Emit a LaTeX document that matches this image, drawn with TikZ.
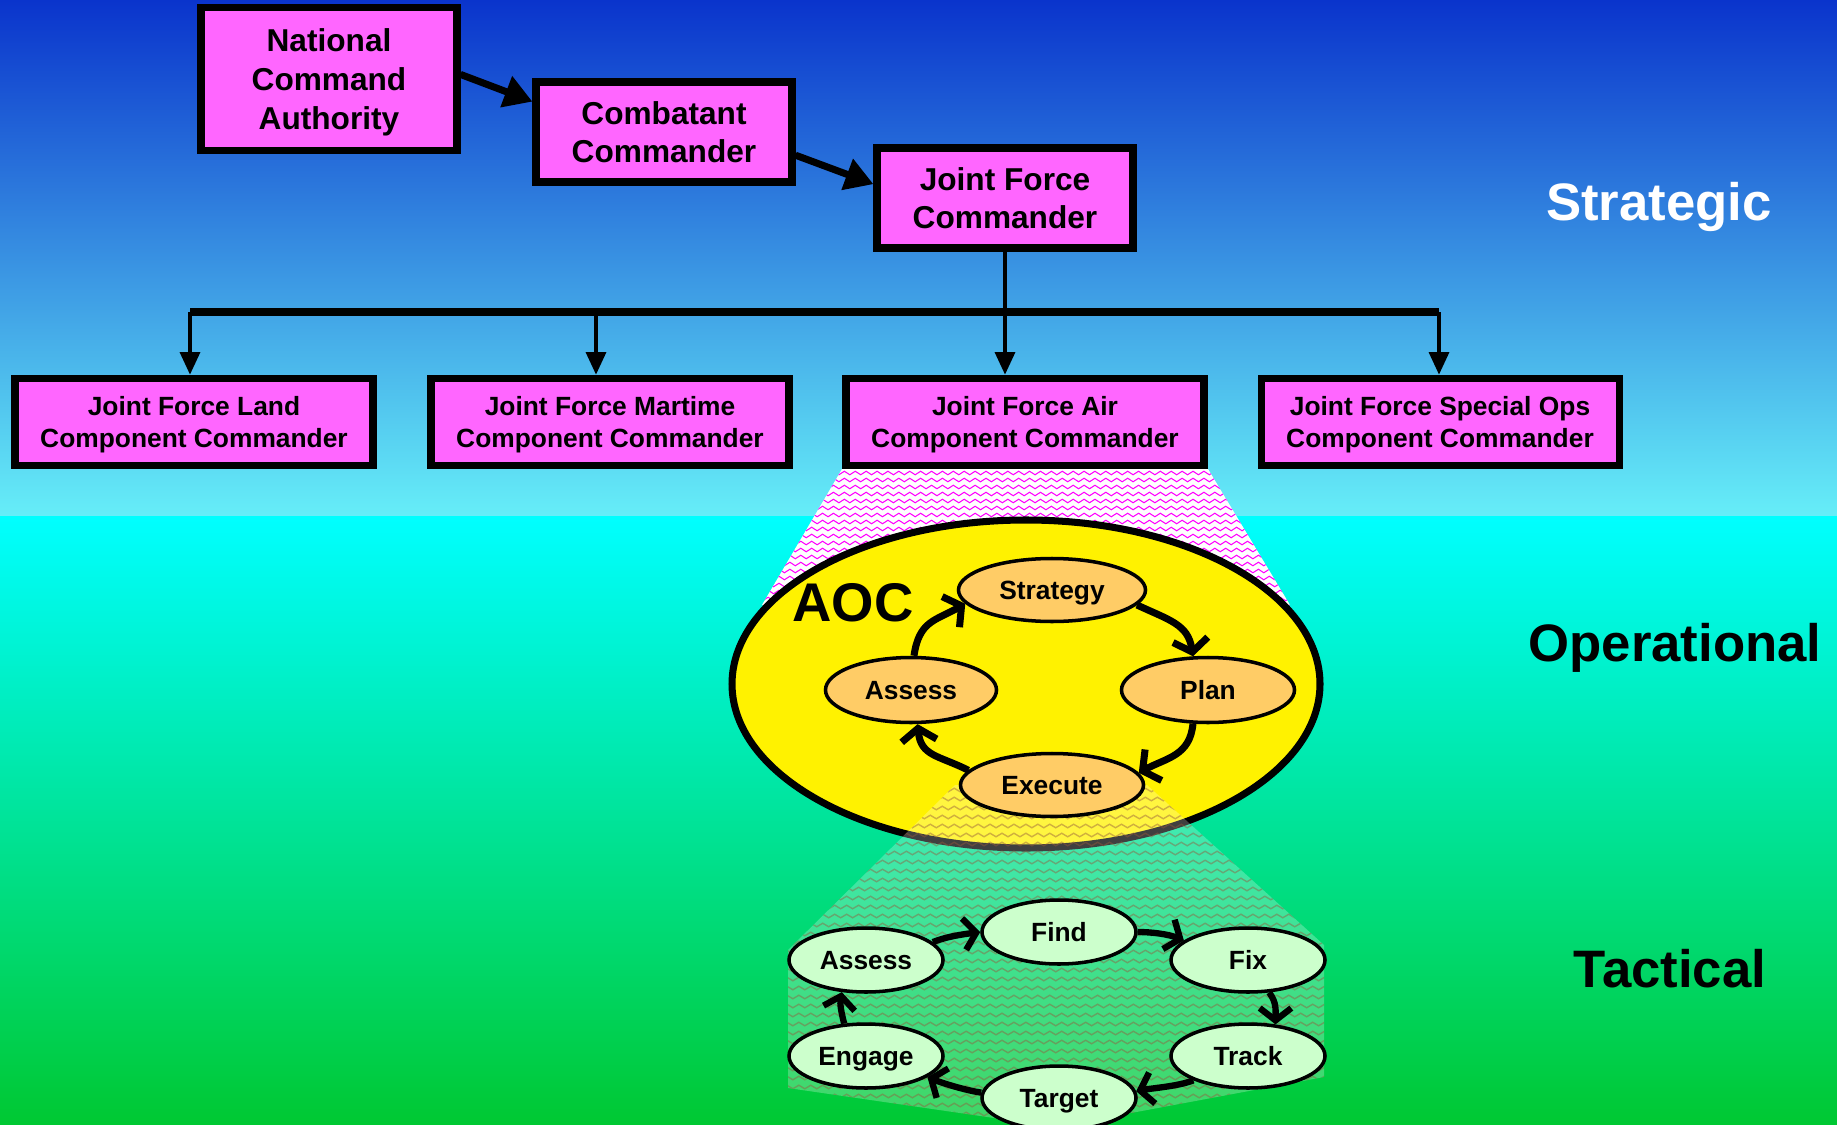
\documentclass[tikz,border=0pt]{standalone}
\usepackage{fontspec}
\setmainfont{Liberation Sans}
\usetikzlibrary{arrows.meta,shapes.geometric,decorations.pathmorphing}

\definecolor{bgtop}{RGB}{10,52,204}
\definecolor{bgmid}{RGB}{102,238,248}
\definecolor{bgcyan}{RGB}{0,255,255}
\definecolor{bgbot}{RGB}{0,200,50}
\definecolor{boxmag}{RGB}{255,102,255}
\definecolor{orangefill}{RGB}{255,204,102}
\definecolor{greenfill}{RGB}{204,255,204}
\definecolor{zigmag}{RGB}{255,0,255}
\definecolor{zigbrown}{RGB}{150,90,60}

\tikzset{
 cmdbox/.style={rectangle, draw=black, line width=2pt, fill=boxmag, align=center, inner sep=0pt,
   font=\fontsize{9}{11}\selectfont\bfseries, minimum width=25.6mm, text depth=0pt},
 compbox/.style={rectangle, draw=black, line width=2pt, fill=boxmag, align=center, inner sep=0pt,
   font=\fontsize{7.5}{9.3}\selectfont\bfseries, minimum width=35.8mm, minimum height=8.7mm, text depth=0pt},
 opell/.style={ellipse, draw=black, line width=1pt, fill=orangefill, inner sep=0pt,
   font=\fontsize{7.5}{9}\selectfont\bfseries, text depth=0pt},
 tacell/.style={ellipse, draw=black, line width=1pt, fill=greenfill, inner sep=0pt,
   font=\fontsize{7.5}{9}\selectfont\bfseries, minimum width=15.4mm, minimum height=6.4mm, text depth=0pt},
 bigarrow/.style={line width=2pt, -{Triangle[length=8pt,width=9pt]}},
 downarrow/.style={line width=1.4pt, -{Triangle[length=6.5pt,width=5.5pt]}},
 cyclearrow/.style={line width=2pt, -{Straight Barb[length=3.5pt,width=10pt]}},
 tacarrow/.style={line width=1.8pt, -{Straight Barb[length=3.5pt,width=9pt]}},
 levellabel/.style={font=\fontsize{15}{18}\selectfont\bfseries, text depth=0pt},
 magzig/.style={draw=zigmag, line width=0.3pt, decorate, decoration={zigzag, segment length=3.1pt, amplitude=0.5pt}},
 brownzig/.style={draw=zigbrown, draw opacity=0.45, line width=0.4pt, decorate, decoration={zigzag, segment length=3.4pt, amplitude=0.5pt}},
}

\begin{document}
\begin{tikzpicture}[x=0.1mm,y=-0.1mm]
\useasboundingbox (0,0) rectangle (1837,1125);
% background
\shade[top color=bgtop, bottom color=bgmid] (0,0) rectangle (1837,516);
\shade[top color=bgcyan, bottom color=bgbot] (0,516) rectangle (1837,1125);

% command boxes
\node[cmdbox, minimum height=14.3mm] (nca) at (329,79) {National\\Command\\Authority};
\node[cmdbox, minimum height=10mm] (cc) at (664,132) {Combatant\\Commander};
\node[cmdbox, minimum height=10mm] (jfc) at (1005,198) {Joint Force\\Commander};

\node[compbox] (land) at (194,422) {Joint Force Land\\Component Commander};
\node[compbox] (mar) at (610,422) {Joint Force Martime\\Component Commander};
\node[compbox] (air) at (1025,422) {Joint Force Air\\Component Commander};
\node[compbox] (spec) at (1440,422) {Joint Force Special Ops\\Component Commander};

\draw[bigarrow] (nca.2) -- (cc.167);
\draw[bigarrow] (cc.-10) -- (jfc.174);

\coordinate (b1) at (190,312);
\coordinate (b2) at (596,312);
\coordinate (b4) at (1439,312);
\draw[line width=2.3pt] (b1) -- (b4);
\draw[downarrow] (b1) -- (b1 |- land.north);
\draw[downarrow] (b2) -- (b2 |- mar.north);
\draw[downarrow] (b4) -- (b4 |- spec.north);
\draw[downarrow] (jfc.south) -- (jfc.south |- air.north);

% magenta zigzag funnel
\begin{scope}
\clip (842,469) -- (1208,469) -- (1290,605) -- (1026,684) -- (762,605) -- cycle;
\fill[white] (700,460) rectangle (1350,700);
\foreach \yy in {466,473,...,700} \path[magzig] (700,\yy) -- (1350,\yy);
\end{scope}

% AOC ellipse
\node[ellipse, draw=black, line width=2pt, fill=yellow, minimum width=58.8mm, minimum height=32.8mm, inner sep=0pt] (aoc) at (1026,684) {};
\node[font=\fontsize{15.5}{18}\selectfont\bfseries] (aoclabel) at (853,603) {AOC};

% green zigzag funnel
\begin{scope}
\clip (955,785) -- (1147,785) -- (1324,945) -- (1324,1077) -- (1056,1127) -- (788,1088) -- (788,950) -- cycle;
\fill[white, opacity=0.25] (700,780) rectangle (1350,1130);
\foreach \yy in {790,799,...,1130} \path[brownzig] (760,\yy) -- (1350,\yy);
\end{scope}

% operational cycle
\node[opell, minimum width=18.7mm, minimum height=6.3mm] (strategy) at (1052,590) {Strategy};
\node[opell, minimum width=17.3mm, minimum height=6.5mm] (plan) at (1208,690) {Plan};
\node[opell, minimum width=17.1mm, minimum height=6.5mm] (oassess) at (911,690) {Assess};
\node[opell, minimum width=18.3mm, minimum height=6.3mm] (execute) at (1052,785) {Execute};

\draw[cyclearrow] (oassess.85) .. controls +(5,-35) and +(-30,17) .. (strategy.189);
\draw[cyclearrow] (strategy.-10) .. controls +(32,15) and +(-5,-32) .. (plan.114);
\draw[cyclearrow] (plan.246) .. controls +(-3,32) and +(28,-15) .. (execute.8);
\draw[cyclearrow] (execute.170) .. controls +(-30,-15) and +(3,32) .. (oassess.281);

% tactical cycle
\node[tacell] (find) at (1059,932) {Find};
\node[tacell] (fix) at (1248,960) {Fix};
\node[tacell] (tassess) at (866,960) {Assess};
\node[tacell] (track) at (1248,1056) {Track};
\node[tacell] (engage) at (866,1056) {Engage};
\node[tacell] (target) at (1059,1098) {Target};

\draw[tacarrow] (tassess.15) .. controls +(15,-6) and +(-15,2) .. (find.180);
\draw[tacarrow] (find.0) .. controls +(15,0) and +(-15,-6) .. (fix.163);
\draw[tacarrow] (fix.-57) .. controls +(8,10) and +(0,-12) .. (track.49);
\draw[tacarrow] (track.204) .. controls +(-15,6) and +(15,-3) .. (target.5);
\draw[tacarrow] (target.176) .. controls +(-15,-2) and +(15,6) .. (engage.-19);
\draw[tacarrow] (engage.124) .. controls +(-3,-12) and +(-2,12) .. (tassess.233);

% level labels
\node[levellabel, text=white] (strat) at (1659,201) {Strategic};
\node[levellabel] (oper) at (1675,642) {Operational};
\node[levellabel] (tact) at (1670,968) {Tactical};
\end{tikzpicture}
\end{document}
